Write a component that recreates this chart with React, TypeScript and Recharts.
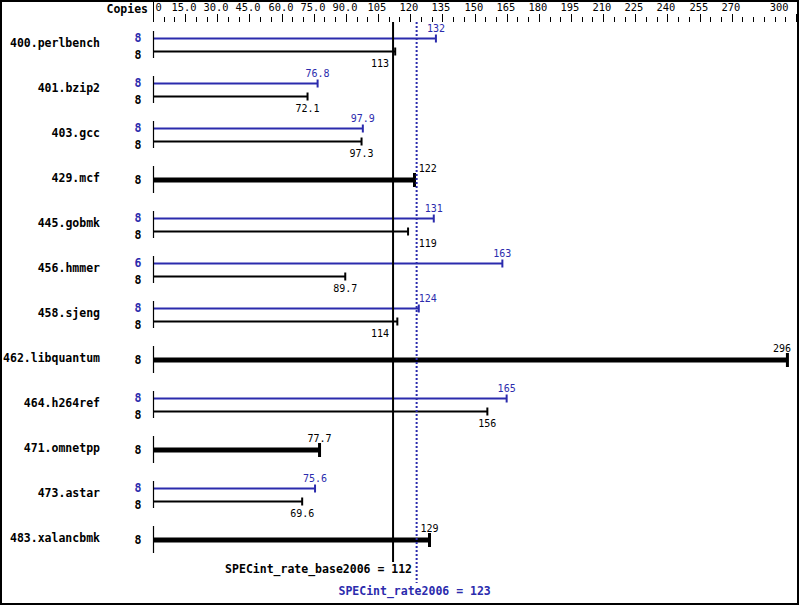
import React from "react";
import { ComposedChart, Bar, XAxis, YAxis, ReferenceLine } from "recharts";

const BENCHMARKS = [
  "400.perlbench",
  "401.bzip2",
  "403.gcc",
  "429.mcf",
  "445.gobmk",
  "456.hmmer",
  "458.sjeng",
  "462.libquantum",
  "464.h264ref",
  "471.omnetpp",
  "473.astar",
  "483.xalancbmk",
];
// peak ratios (null where peak equals base and only one bar is drawn)
const PEAK = [132, 76.8, 97.9, null, 131, 163, 124, null, 165, null, 75.6, null];
const BASE = [113, 72.1, 97.3, 122, 119, 89.7, 114, 296, 156, 77.7, 69.6, 129];
const PEAK_COPIES = [8, 8, 8, null, 8, 6, 8, null, 8, null, 8, null];
const BASE_COPIES = [8, 8, 8, 8, 8, 8, 8, 8, 8, 8, 8, 8];

const SPEC_BASE = 112;
const SPEC_PEAK = 123;

const TICKS = [
  0, 5, 10, 15, 20, 25, 30, 35, 40, 45, 50, 55, 60, 65, 70, 75, 80, 85, 90, 95,
  100, 105, 110, 115, 120, 125, 130, 135, 140, 145, 150, 155, 160, 165, 170,
  175, 180, 185, 190, 195, 200, 205, 210, 215, 220, 225, 230, 235, 240, 245,
  250, 255, 260, 265, 270, 275, 280, 285, 290, 295, 300,
];
const TICK_LABELS: Record<number, string> = {
  0: "0", 15: "15.0", 30: "30.0", 45: "45.0", 60: "60.0", 75: "75.0",
  90: "90.0", 105: "105", 120: "120", 135: "135", 150: "150", 165: "165",
  180: "180", 195: "195", 210: "210", 225: "225", 240: "240", 255: "255",
  270: "270", 300: "300",
};
const MAJOR = [0, 15, 30, 45, 60, 75, 90, 105, 120, 135, 150, 165, 180, 195, 210, 225, 240, 255, 270, 300];

const data = BENCHMARKS.map((name, i) => ({
  name,
  peak: PEAK[i],
  base: BASE[i],
  peakCopies: PEAK_COPIES[i],
  baseCopies: BASE_COPIES[i],
}));

const BLUE = "#2b2bad";
const MONO = "'DejaVu Sans Mono', 'Liberation Mono', monospace";
const CHAR_W = 6.05;

// place a value label at the bar end, moving it off the two reference lines
function placeLabel(end: number, text: string, baseX: number, peakX: number) {
  const w = text.length * CHAR_W;
  const left = end - w / 2;
  const right = end + w / 2;
  if (left < peakX + 1 && right > peakX - 1) return { x: peakX + 2, anchor: "start" };
  if (left < baseX + 1 && right > baseX - 1) return { x: baseX - 4, anchor: "end" };
  if (right > 791) return { x: 791, anchor: "end" };
  return { x: end, anchor: "middle" };
}

function PeakShape(p: any) {
  const { x, y, width, height, payload } = p;
  if (payload.peak == null || !width) return null;
  const cy = Math.round(y + height / 2) + 0.5;
  const end = x + width;
  const unit = width / payload.peak;
  const lbl = String(payload.peak);
  const pos = placeLabel(end, lbl, x + SPEC_BASE * unit, x + SPEC_PEAK * unit);
  return (
    <g>
      <line x1={x} y1={cy} x2={end} y2={cy} stroke={BLUE} strokeWidth={2} />
      <line x1={end} y1={cy - 4} x2={end} y2={cy + 4} stroke={BLUE} strokeWidth={2} />
      <text x={pos.x} y={cy - 7} textAnchor={pos.anchor as any} fontFamily={MONO} fontSize={10} fill={BLUE}>
        {lbl}
      </text>
      <text x={x - 15} y={cy + 3} textAnchor="middle" fontFamily={MONO} fontWeight="bold" fontSize={11.5} fill={BLUE}>
        {payload.peakCopies}
      </text>
    </g>
  );
}

function BaseShape(p: any) {
  const { x, y, width, height, payload } = p;
  if (!width) return null;
  const single = payload.peak == null;
  const cy = single ? Math.round(y) + 1 : Math.round(y + height / 2) + 0.5;
  const top = Math.round(y);
  const end = x + width;
  const unit = width / payload.base;
  const lbl = String(payload.base);
  const pos = placeLabel(end, lbl, x + SPEC_BASE * unit, x + SPEC_PEAK * unit);
  const capH = single ? 7 : 4;
  return (
    <g>
      <line x1={x + 0.5} y1={top - 13} x2={x + 0.5} y2={top + 14} stroke="#000" strokeWidth={1.2} />
      <line x1={x} y1={cy} x2={end} y2={cy} stroke="#000" strokeWidth={single ? 5 : 2} />
      <line x1={end} y1={cy - capH} x2={end} y2={cy + capH} stroke="#000" strokeWidth={single ? 3 : 2} />
      <text x={pos.x} y={single ? cy - 8 : cy + 15} textAnchor={pos.anchor as any} fontFamily={MONO} fontSize={10} fill="#000">
        {lbl}
      </text>
      <text x={x - 15} y={single ? cy + 4 : cy + 7} textAnchor="middle" fontFamily={MONO} fontWeight="bold" fontSize={11.5} fill="#000">
        {payload.baseCopies}
      </text>
    </g>
  );
}

function AxisTick(p: any) {
  const { x, payload } = p;
  const v = payload.value as number;
  const major = MAJOR.includes(v);
  const label = TICK_LABELS[v];
  const px = Math.round(x) + 0.5;
  let tx = px - 1.5;
  let anchor = "middle";
  if (v === 0) {
    tx = px + 2;
    anchor = "start";
  } else if (v === 300) {
    tx = px - 8;
    anchor = "end";
  }
  return (
    <g>
      <line x1={px} y1={v === 0 ? 0 : major ? 14 : 17} x2={px} y2={22} stroke="#000" strokeWidth={1} />
      {label && (
        <text x={tx} y={11} textAnchor={anchor as any} fontFamily={MONO} fontSize={10.4} fill="#000">
          {label}
        </text>
      )}
      {v === 0 && (
        <text x={148} y={13} textAnchor="end" fontFamily={MONO} fontWeight="bold" fontSize={11.5} fill="#000">
          Copies
        </text>
      )}
    </g>
  );
}

function NameTick(p: any) {
  const { y, payload } = p;
  return (
    <text x={100} y={y + 3.5} textAnchor="end" fontFamily={MONO} fontWeight="bold" fontSize={11.5} fill="#000">
      {payload.value}
    </text>
  );
}

export default function App() {
  return (
    <div style={{ position: "relative", width: 799, height: 606 }}>
      <style>{"body{margin:0}"}</style>
      <ComposedChart
        layout="vertical"
        width={799}
        height={606}
        data={data}
        barGap={0}
        margin={{ top: 0, right: 3, bottom: 45, left: 0 }}
      >
        <XAxis
          type="number"
          orientation="top"
          domain={[0, 300]}
          ticks={TICKS}
          interval={0}
          height={21}
          axisLine={false}
          tickLine={false}
          tick={<AxisTick />}
        />
        <YAxis
          type="category"
          dataKey="name"
          width={153}
          interval={0}
          axisLine={false}
          tickLine={false}
          tick={<NameTick />}
        />
        <Bar dataKey="peak" barSize={13} shape={<PeakShape />} isAnimationActive={false} />
        <Bar dataKey="base" barSize={13} shape={<BaseShape />} isAnimationActive={false} />
        <ReferenceLine
          x={SPEC_BASE}
          shape={(s: any) => (
            <g>
              <line x1={s.x1} y1={s.y1 + 1} x2={s.x2} y2={562} stroke="#000" strokeWidth={2} />
              <text x={s.x1 + 19} y={573} textAnchor="end" fontFamily={MONO} fontWeight="bold" fontSize={11.5} fill="#000">
                {`SPECint_rate_base2006 = ${SPEC_BASE}`}
              </text>
            </g>
          )}
        />
        <ReferenceLine
          x={SPEC_PEAK}
          shape={(s: any) => (
            <g>
              <line x1={s.x1} y1={s.y1 + 1} x2={s.x2} y2={583} stroke={BLUE} strokeWidth={2} strokeDasharray="2 2" />
              <text x={s.x1 - 2} y={595} textAnchor="middle" fontFamily={MONO} fontWeight="bold" fontSize={11.5} fill={BLUE}>
                {`SPECint_rate2006 = ${SPEC_PEAK}`}
              </text>
            </g>
          )}
        />
      </ComposedChart>
      <div
        style={{
          position: "absolute",
          left: 0,
          top: 0,
          width: 799,
          height: 605,
          boxSizing: "border-box",
          border: "2px solid #000",
          pointerEvents: "none",
        }}
      />
    </div>
  );
}
